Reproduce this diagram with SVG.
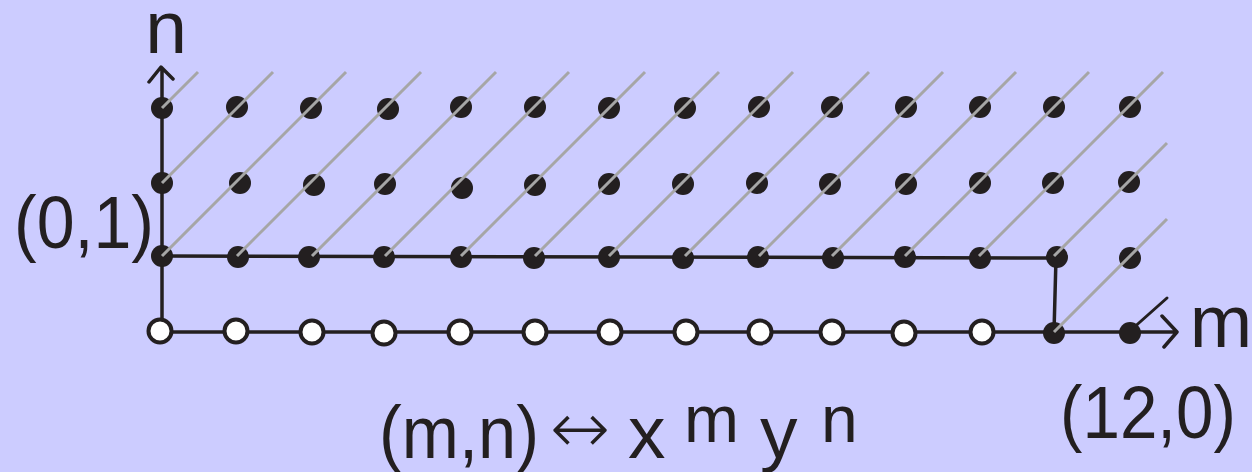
<svg xmlns="http://www.w3.org/2000/svg" width="1252" height="472" viewBox="0 0 1252 472">
<style>
.ax{stroke:#231f20;stroke-width:3.5;fill:none;stroke-linecap:round;stroke-linejoin:round}
.pt{fill:#231f20}
.op{fill:#ffffff;stroke:#231f20;stroke-width:4}
.gl{stroke:#a6a6a6;stroke-width:3;fill:none}
.t{font-family:"Liberation Sans",Arial,sans-serif;fill:#231f20}
</style>
<defs>
<circle id="d" r="11" class="pt"/>
<circle id="o" r="11.5" class="op"/>
</defs>
<rect width="1252" height="472" fill="#ccccff"/>
<g id="connectors">
<path class="ax" d="M162,332 V68 M149,82 L161,67 L173,79"/>
<path class="ax" d="M162,332 H1176 M1162,316 L1177,332 L1164,347"/>
<path class="ax" d="M162,256 L1056,258 L1054,332"/>
<path class="ax" d="M1131,330 L1167,298" style="stroke-width:3"/>
</g>
<g id="row3">
<g id="p0_3"><use href="#d" x="162" y="108"/></g>
<g id="p1_3"><use href="#d" x="237" y="107"/></g>
<g id="p2_3"><use href="#d" x="311" y="108"/></g>
<g id="p3_3"><use href="#d" x="388" y="109"/></g>
<g id="p4_3"><use href="#d" x="461" y="107"/></g>
<g id="p5_3"><use href="#d" x="535" y="107"/></g>
<g id="p6_3"><use href="#d" x="609" y="108"/></g>
<g id="p7_3"><use href="#d" x="685" y="108"/></g>
<g id="p8_3"><use href="#d" x="759" y="107"/></g>
<g id="p9_3"><use href="#d" x="832" y="107"/></g>
<g id="p10_3"><use href="#d" x="906" y="107"/></g>
<g id="p11_3"><use href="#d" x="980" y="107"/></g>
<g id="p12_3"><use href="#d" x="1054" y="107"/></g>
<g id="p13_3"><use href="#d" x="1130" y="107"/></g>
</g>
<g id="row2">
<g id="p0_2"><use href="#d" x="162" y="183"/></g>
<g id="p1_2"><use href="#d" x="240" y="183"/></g>
<g id="p2_2"><use href="#d" x="314" y="185"/></g>
<g id="p3_2"><use href="#d" x="385" y="184"/></g>
<g id="p4_2"><use href="#d" x="462" y="188"/></g>
<g id="p5_2"><use href="#d" x="535" y="185"/></g>
<g id="p6_2"><use href="#d" x="609" y="184"/></g>
<g id="p7_2"><use href="#d" x="683" y="184"/></g>
<g id="p8_2"><use href="#d" x="757" y="183"/></g>
<g id="p9_2"><use href="#d" x="830" y="184"/></g>
<g id="p10_2"><use href="#d" x="906" y="184"/></g>
<g id="p11_2"><use href="#d" x="980" y="183"/></g>
<g id="p12_2"><use href="#d" x="1053" y="183"/></g>
<g id="p13_2"><use href="#d" x="1129" y="182"/></g>
</g>
<g id="row1">
<g id="p0_1"><use href="#d" x="162" y="256"/></g>
<g id="p1_1"><use href="#d" x="238" y="257"/></g>
<g id="p2_1"><use href="#d" x="309" y="257"/></g>
<g id="p3_1"><use href="#d" x="384" y="257"/></g>
<g id="p4_1"><use href="#d" x="461" y="257"/></g>
<g id="p5_1"><use href="#d" x="534" y="258"/></g>
<g id="p6_1"><use href="#d" x="609" y="257"/></g>
<g id="p7_1"><use href="#d" x="683" y="258"/></g>
<g id="p8_1"><use href="#d" x="758" y="257"/></g>
<g id="p9_1"><use href="#d" x="833" y="258"/></g>
<g id="p10_1"><use href="#d" x="905" y="257"/></g>
<g id="p11_1"><use href="#d" x="980" y="258"/></g>
<g id="p12_1"><use href="#d" x="1057" y="257"/></g>
<g id="p13_1"><use href="#d" x="1130" y="258"/></g>
</g>
<g id="row0">
<g id="q0"><use href="#o" x="160" y="331"/></g>
<g id="q1"><use href="#o" x="236" y="331"/></g>
<g id="q2"><use href="#o" x="312" y="332"/></g>
<g id="q3"><use href="#o" x="384" y="333"/></g>
<g id="q4"><use href="#o" x="460" y="332"/></g>
<g id="q5"><use href="#o" x="535" y="332"/></g>
<g id="q6"><use href="#o" x="610" y="332"/></g>
<g id="q7"><use href="#o" x="686" y="332"/></g>
<g id="q8"><use href="#o" x="760" y="332"/></g>
<g id="q9"><use href="#o" x="832" y="332"/></g>
<g id="q10"><use href="#o" x="904" y="333"/></g>
<g id="q11"><use href="#o" x="982" y="332"/></g>
<g id="p12_0"><use href="#d" x="1054" y="333"/></g>
<g id="p13_0"><use href="#d" x="1130" y="333"/></g>
</g>
<g id="diagonals">
<path class="gl" d="M162,108 L198,72 M162,183 L273,72 M162,256 L346,72 M237,256 L421,72 M312,256 L496,72 M385,256 L569,72 M461,256 L645,72 M535,256 L719,72 M609,256 L793,72 M685,256 L869,72 M759,256 L943,72 M832,256 L1016,72 M905,256 L1089,72 M979,256 L1163,72 M1054,256 L1167,143 M1054,332 L1167,219"/>
</g>
<g id="labels">
<text class="t" x="166" y="53" font-size="75" text-anchor="middle">n</text>
<text class="t" x="1221" y="347" font-size="75" text-anchor="middle">m</text>
<text class="t" x="14" y="248" font-size="75" textLength="140" lengthAdjust="spacingAndGlyphs">(0,1)</text>
<text class="t" x="1060" y="438" font-size="74" textLength="176" lengthAdjust="spacingAndGlyphs">(12,0)</text>
<text class="t" x="379" y="458" font-size="75" textLength="160" lengthAdjust="spacingAndGlyphs">(m,n)</text>
<text x="580" y="453" font-size="72" text-anchor="middle" style="font-family:'DejaVu Sans',sans-serif;font-weight:200;fill:#231f20">↔</text>
<text class="t" x="628" y="458" font-size="75">x</text>
<text class="t" x="684" y="442" font-size="66">m</text>
<text class="t" x="760" y="458" font-size="75">y</text>
<text class="t" x="821" y="442" font-size="66">n</text>
</g>
</svg>
